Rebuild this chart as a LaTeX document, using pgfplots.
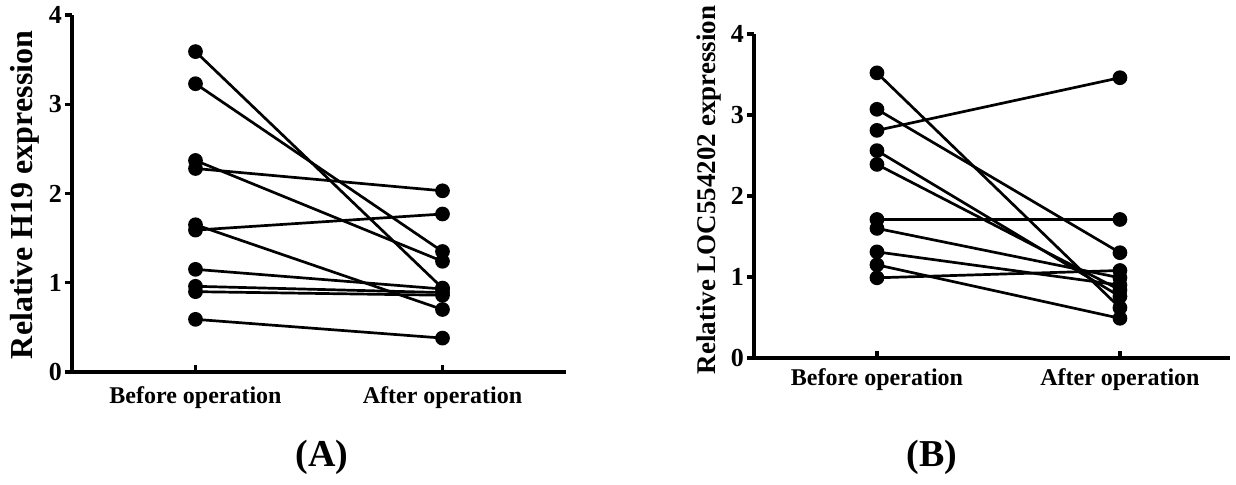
\documentclass[border=0pt]{standalone}
\usepackage{pgfplots}
\pgfplotsset{compat=1.18}
\usepackage{fontspec}
\setmainfont{Liberation Serif}
\begin{document}
\begin{tikzpicture}
\path[use as bounding box] (0pt,0pt) rectangle (618pt,242.5pt);
\pgfplotsset{
  pairstyle/.style={
    scale only axis,
    axis lines=left,
    axis line style={-, line width=1.6pt},
    ymin=0, ymax=4,
    xtick={0,1}, xticklabels={Before operation, After operation},
    ytick={0,1,2,3,4},
    xtick align=inside, ytick align=outside,
    major tick length=3.5pt,
    tick style={line width=1.6pt, black},
    xticklabel style={font=\bfseries\fontsize{12}{14}\selectfont},
    yticklabel style={font=\bfseries\fontsize{13}{15}\selectfont, xshift=2pt},
    /pgf/number format/assume math mode=true,
    clip=false,
    every axis plot post/.style={black, solid, line width=1.35pt, mark=*, mark size=3pt, mark options={solid, fill=black}},
  }
}
% Panel A
\begin{axis}[pairstyle,
  at={(36pt,56.5pt)}, anchor=south west,
  width=247pt, height=178.5pt,
  xmin=-0.5, xmax=1.5,
  xticklabel style={yshift=-4pt},
  ylabel={Relative H19 expression},
  ylabel style={font=\bfseries\fontsize{16}{18}\selectfont, at={(axis description cs:-0.095,0.496)}, anchor=center},
]
\addplot coordinates {(0,3.59) (1,0.94)};
\addplot coordinates {(0,3.23) (1,1.35)};
\addplot coordinates {(0,2.37) (1,1.24)};
\addplot coordinates {(0,2.28) (1,2.03)};
\addplot coordinates {(0,1.65) (1,0.70)};
\addplot coordinates {(0,1.59) (1,1.77)};
\addplot coordinates {(0,1.15) (1,0.93)};
\addplot coordinates {(0,0.96) (1,0.89)};
\addplot coordinates {(0,0.90) (1,0.86)};
\addplot coordinates {(0,0.59) (1,0.38)};
\end{axis}
% Panel B
\begin{axis}[pairstyle,
  at={(377pt,63.5pt)}, anchor=south west,
  width=238pt, height=162pt,
  xmin=-0.506, xmax=1.453,
  xticklabel style={yshift=-2pt},
  ylabel={Relative LOC554202 expression},
  ylabel style={font=\bfseries\fontsize{13.5}{15}\selectfont, at={(axis description cs:-0.0945,0.518)}, anchor=center},
]
\addplot coordinates {(0,3.52) (1,0.62)};
\addplot coordinates {(0,3.07) (1,1.30)};
\addplot coordinates {(0,2.81) (1,3.46)};
\addplot coordinates {(0,2.56) (1,0.76)};
\addplot coordinates {(0,2.39) (1,0.84)};
\addplot coordinates {(0,1.71) (1,1.71)};
\addplot coordinates {(0,1.60) (1,0.99)};
\addplot coordinates {(0,1.31) (1,0.90)};
\addplot coordinates {(0,1.15) (1,0.49)};
\addplot coordinates {(0,0.99) (1,1.08)};
\end{axis}
\node[font=\bfseries\fontsize{19}{21}\selectfont] at (161pt,14pt) {(A)};
\node[font=\bfseries\fontsize{19}{21}\selectfont] at (466pt,14pt) {(B)};
\end{tikzpicture}
\end{document}
